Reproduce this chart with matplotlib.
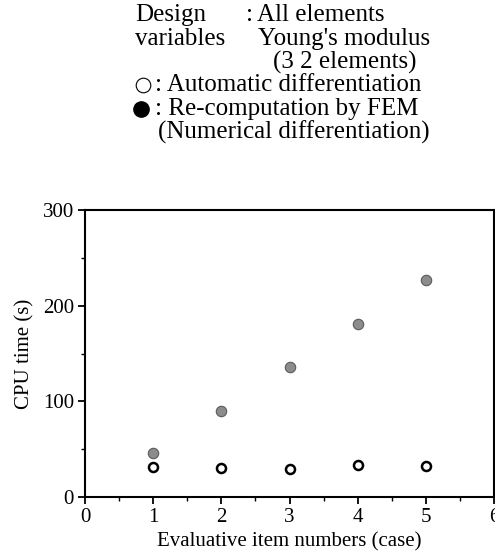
import matplotlib
matplotlib.use('Agg')
import matplotlib.pyplot as plt
from matplotlib.lines import Line2D
import matplotlib.ticker as ticker

plt.rcParams['font.family'] = ['Liberation Serif', 'DejaVu Serif']

cases = [1, 2, 3, 4, 5]
auto_diff = [31, 30, 29, 33, 32]
fem_recomp = [46, 90, 136, 181, 227]

W, H = 495, 558
fig = plt.figure(figsize=(W / 100, H / 100), dpi=100)
ax = fig.add_axes([85 / W, 1 - 497 / H, (494 - 85) / W, (497 - 210) / H])

ax.plot(cases, fem_recomp, 'o', ms=7.5, mfc='#8c8c8c', mec='#5a5a5a', mew=0.8, ls='none')
ax.plot(cases, auto_diff, 'o', ms=6.5, mfc='white', mec='black', mew=1.8, ls='none')

ax.set_xlim(0, 6)
ax.set_ylim(0, 300)
ax.set_xticks([0, 1, 2, 3, 4, 5, 6])
ax.set_yticks([0, 100, 200, 300])
ax.xaxis.set_minor_locator(ticker.MultipleLocator(0.5))
ax.yaxis.set_minor_locator(ticker.MultipleLocator(50))
ax.tick_params(which='major', direction='out', length=5, width=1.3, labelsize=15, pad=3)
ax.tick_params(which='minor', direction='out', length=3, width=1.0)
for s in ax.spines.values():
    s.set_linewidth(1.5)

ax.set_xlabel('Evaluative item numbers (case)', fontsize=15, labelpad=4)
ax.set_ylabel('CPU time (s)', fontsize=15, labelpad=6)

def px(x, y):
    return x / W, 1 - y / H

fs = 18
fig.text(*px(135, 15), 'Design', fontsize=fs, va='center')
fig.text(*px(246, 15), ':', fontsize=fs, va='center')
fig.text(*px(257, 15), 'All elements', fontsize=fs, va='center')
fig.text(*px(135, 39), 'variables', fontsize=fs, va='center')
fig.text(*px(258, 39), "Young's modulus", fontsize=fs, va='center')
fig.text(*px(273, 62), '(3 2 elements)', fontsize=fs, va='center')
fig.text(*px(155, 85), ': Automatic differentiation', fontsize=fs, va='center')
fig.text(*px(155, 109), ': Re-computation by FEM', fontsize=fs, va='center')
fig.text(*px(158, 132), '(Numerical differentiation)', fontsize=fs, va='center')

mx, my = px(143, 85)
fig.add_artist(Line2D([mx], [my], marker='o', ms=10.5, mfc='white', mec='black', mew=0.8,
                      transform=fig.transFigure))
mx, my = px(141, 109)
fig.add_artist(Line2D([mx], [my], marker='o', ms=11, mfc='black', mec='black',
                      transform=fig.transFigure))

fig.savefig('out.png', dpi=100)
